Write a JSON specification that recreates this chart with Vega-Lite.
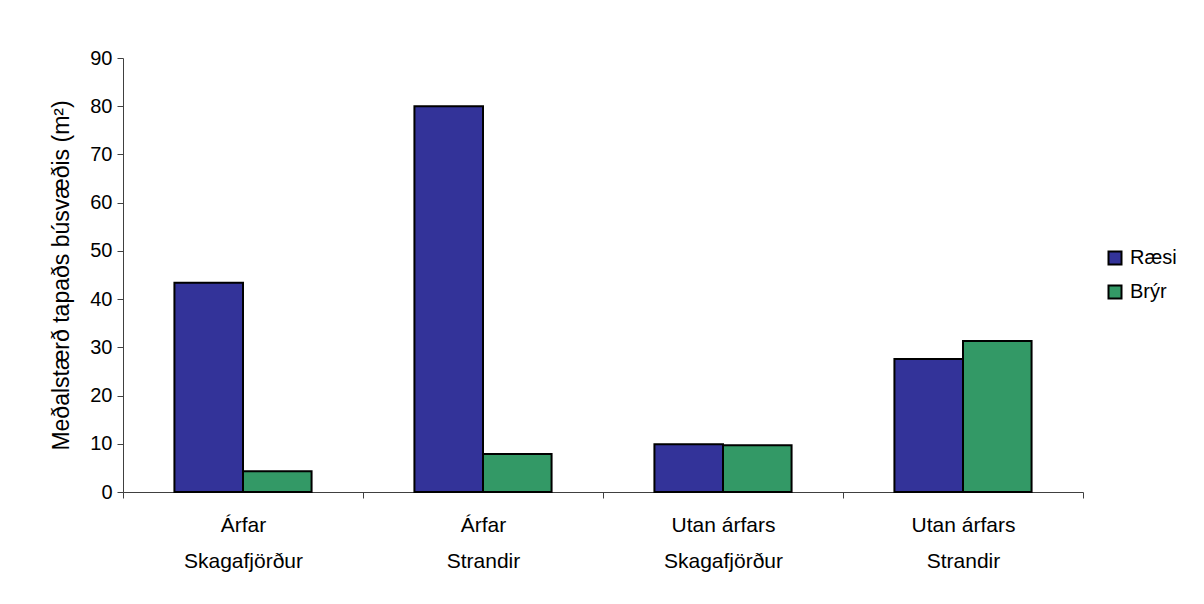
{
  "$schema": "https://vega.github.io/schema/vega-lite/v6.json",
  "autosize": {"type": "none"},
  "width": 960,
  "height": 434,
  "padding": {"left": 123, "top": 58, "right": 121, "bottom": 112},
  "background": "white",
  "config": {
    "view": {"stroke": null},
    "font": "Liberation Sans",
    "axis": {"labelFont": "Liberation Sans", "titleFont": "Liberation Sans", "labelColor": "black", "titleColor": "black", "domainColor": "#404040", "tickColor": "#404040"}
  },
  "data": {
    "values": [
      {"flokkur": "Árfar|Skagafjörður", "tegund": "Ræsi", "gildi": 43.4},
      {"flokkur": "Árfar|Skagafjörður", "tegund": "Brýr", "gildi": 4.3},
      {"flokkur": "Árfar|Strandir", "tegund": "Ræsi", "gildi": 80.0},
      {"flokkur": "Árfar|Strandir", "tegund": "Brýr", "gildi": 7.9},
      {"flokkur": "Utan árfars|Skagafjörður", "tegund": "Ræsi", "gildi": 9.9},
      {"flokkur": "Utan árfars|Skagafjörður", "tegund": "Brýr", "gildi": 9.7},
      {"flokkur": "Utan árfars|Strandir", "tegund": "Ræsi", "gildi": 27.6},
      {"flokkur": "Utan árfars|Strandir", "tegund": "Brýr", "gildi": 31.3}
    ]
  },
  "mark": {"type": "bar", "stroke": "black", "strokeWidth": 2},
  "encoding": {
    "x": {
      "field": "flokkur", "type": "nominal",
      "sort": ["Árfar|Skagafjörður", "Árfar|Strandir", "Utan árfars|Skagafjörður", "Utan árfars|Strandir"],
      "scale": {"paddingInner": 0, "paddingOuter": 0},
      "axis": {
        "title": null, "labelAngle": 0, "tickBand": "extent", "tickSize": 6,
        "labelExpr": "datum.value ? split(datum.value, '|') : ''", "labelFontSize": 21, "labelLineHeight": 36,
        "labelPadding": 16, "labelBaseline": "top"
      }
    },
    "xOffset": {
      "field": "tegund", "type": "nominal", "sort": ["Ræsi", "Brýr"],
      "scale": {"paddingInner": 0, "paddingOuter": 0.75}
    },
    "y": {
      "field": "gildi", "type": "quantitative",
      "scale": {"domain": [0, 90]},
      "axis": {
        "title": "Meðalstærð tapaðs búsvæðis (m²)", "titleFontSize": 23, "titleFontWeight": "normal",
        "titlePadding": 16, "values": [0,10,20,30,40,50,60,70,80,90], "grid": false,
        "labelFontSize": 20, "tickSize": 6, "labelPadding": 5
      }
    },
    "color": {
      "field": "tegund", "type": "nominal", "sort": ["Ræsi", "Brýr"],
      "scale": {"domain": ["Ræsi", "Brýr"], "range": ["#333399", "#339966"]},
      "legend": {
        "title": null, "orient": "none", "legendX": 982, "legendY": 190,
        "symbolType": "square", "symbolSize": 169, "symbolStrokeColor": "black", "symbolStrokeWidth": 2,
        "labelFontSize": 20, "rowPadding": 12, "labelOffset": 5
      }
    }
  }
}
